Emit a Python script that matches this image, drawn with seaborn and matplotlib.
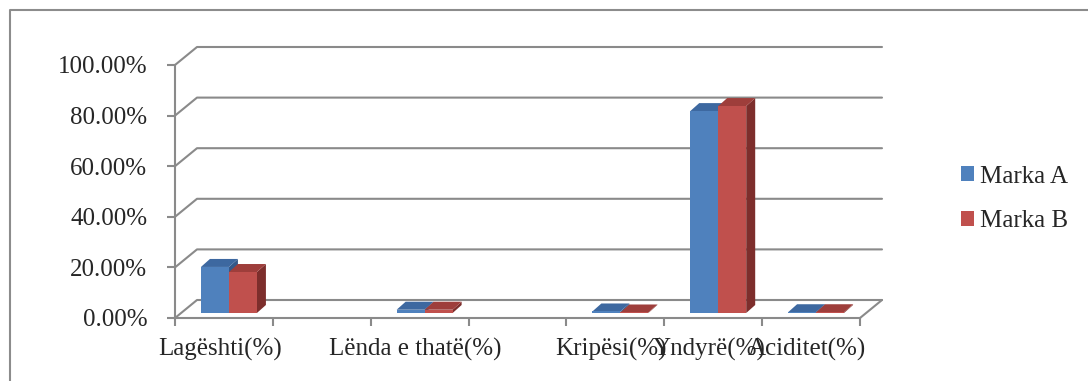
import matplotlib
matplotlib.use("Agg")
import matplotlib.pyplot as plt
import seaborn as sns
import pandas as pd
import numpy as np
from matplotlib.lines import Line2D
from matplotlib.patches import Polygon, Patch
from matplotlib.transforms import IdentityTransform, ScaledTranslation

# ---- data ----
categories = ["Lagështi(%)", " ", "Lënda e thatë(%)", "  ", "Kripësi(%)", "Yndyrë(%)", "Aciditet(%)"]
real_categories = ["Lagështi(%)", "Lënda e thatë(%)", "Kripësi(%)", "Yndyrë(%)", "Aciditet(%)"]
marka_a = [18.2, 1.3, 0.6, 79.8, 0.3]
marka_b = [16.2, 1.3, 0.2, 81.8, 0.3]
series_names = ["Marka A", "Marka B"]
y_ticks = [0, 20, 40, 60, 80, 100]

df = pd.DataFrame({
    "cat": real_categories * 2,
    "brand": [series_names[0]] * 5 + [series_names[1]] * 5,
    "val": marka_a + marka_b,
})

front_cols = {"Marka A": "#4F81BD", "Marka B": "#C0504D"}
top_cols = {"Marka A": "#3D68A0", "Marka B": "#9E3E3B"}
side_cols = {"Marka A": "#34598A", "Marka B": "#7D2E2C"}
grid_col = "#8A8A8A"

sns.set_style("white")
plt.rcParams["font.family"] = ["Liberation Serif", "DejaVu Serif"]

W, H = 1088, 381
fig = plt.figure(figsize=(W / 100, H / 100), dpi=100)
ax = fig.add_axes([175 / W, (H - 318) / H, 685 / W, 253 / H])

sns.barplot(data=df, x="cat", y="val", hue="brand", order=categories,
            hue_order=series_names, palette=front_cols, width=0.572,
            saturation=1, ax=ax, legend=False, zorder=3, linewidth=0)

ax.set_xlim(-0.5, len(categories) - 0.5)
ax.set_ylim(0, 100)
ax.set_xlabel("")
ax.set_ylabel("")
for s in ["top", "right"]:
    ax.spines[s].set_visible(False)
for s in ["left", "bottom"]:
    ax.spines[s].set_color(grid_col)
    ax.spines[s].set_linewidth(1.5)

ax.set_yticks(y_ticks)
ax.set_yticklabels([f"{v:.2f}%" for v in y_ticks])
ax.tick_params(axis="y", length=6, width=1.5, color=grid_col, pad=14,
               labelsize=18, left=True, direction="out")
ax.set_xticks(range(len(categories)))
ax.set_xticklabels(categories)
ax.tick_params(axis="x", which="major", length=0, pad=14, labelsize=18)
ax.set_xticks(np.arange(-0.5, len(categories), 1.0), minor=True)
ax.tick_params(axis="x", which="minor", length=6, width=1.5, color=grid_col,
               bottom=True, direction="out")
shift = ScaledTranslation(-4 / 100, 0, fig.dpi_scale_trans)
for lab in ax.get_xticklabels():
    lab.set_transform(lab.get_transform() + shift)

fig.canvas.draw()
T = ax.transData

# back wall offset and bar offsets (pixels)
wdx, wdy = 22, 18
bdx, bdy = 5, 5
ddx, ddy = 9, 8

# back-wall gridlines with diagonals to the left wall
x_left, x_right = ax.get_xlim()
for v in y_ticks:
    (xa, ya), = T.transform([(x_left, v)])
    (xb, yb), = T.transform([(x_right, v)])
    fig.add_artist(Line2D([xa, xa + wdx, xb + wdx], [ya, ya + wdy, yb + wdy],
                          transform=IdentityTransform(), color=grid_col, lw=1.5, zorder=1))
# floor right edge
(xb, yb), = T.transform([(x_right, 0)])
fig.add_artist(Line2D([xb, xb + wdx], [yb, yb + wdy], transform=IdentityTransform(),
                      color=grid_col, lw=1.5, zorder=1))

# 3D faces for bars
for ci, cont in enumerate(ax.containers):
    name = series_names[ci]
    for p in cont.patches:
        h = p.get_height()
        if not np.isfinite(h):
            continue
        x0, y0 = p.get_x(), p.get_y()
        x1, y1 = x0 + p.get_width(), y0 + h
        (px0, py0), (px1, py1) = T.transform([(x0, y0), (x1, y1)])
        px0 += bdx; px1 += bdx; py0 += bdy; py1 += bdy
        p.set_visible(False)
        z = 3 + ci
        front = Polygon([(px0, py0), (px1, py0), (px1, py1), (px0, py1)], closed=True,
                        transform=IdentityTransform(), facecolor=front_cols[name],
                        edgecolor="none", zorder=z)
        top = Polygon([(px0, py1), (px1, py1), (px1 + ddx, py1 + ddy), (px0 + ddx, py1 + ddy)],
                      closed=True, transform=IdentityTransform(), facecolor=top_cols[name],
                      edgecolor="none", zorder=z)
        side = Polygon([(px1, py0), (px1 + ddx, py0 + ddy), (px1 + ddx, py1 + ddy), (px1, py1)],
                       closed=True, transform=IdentityTransform(), facecolor=side_cols[name],
                       edgecolor="none", zorder=z)
        for poly in (side, top, front):
            fig.add_artist(poly)

# legend
handles = [Patch(facecolor=front_cols[n], edgecolor="none") for n in series_names]
fig.legend(handles, series_names, loc="center left", bbox_to_anchor=(948 / W, 1 - 199 / H),
           frameon=False, fontsize=18, handlelength=0.55, handleheight=0.55,
           handletextpad=0.25, labelspacing=0.9, borderpad=0)

# outer frame
fig.add_artist(Line2D([10, 10, W + 5], [-5, H - 10, H - 10], transform=IdentityTransform(),
                      color="#8C8C8C", lw=1.5, zorder=0))

fig.savefig("out.png", dpi=100)
